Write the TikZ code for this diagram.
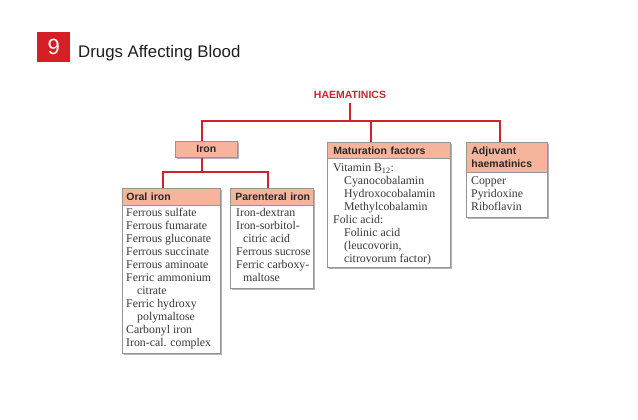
\documentclass[tikz,border=0pt]{standalone}
\usepackage{fontspec}
\setmainfont{Liberation Serif}
\setsansfont{Liberation Sans}
\usetikzlibrary{shadows}
\definecolor{hred}{RGB}{208,34,44}
\definecolor{hsalmon}{RGB}{246,180,156}
\definecolor{boxgray}{RGB}{150,150,150}
\definecolor{hdtxt}{RGB}{40,40,40}
\definecolor{bodytxt}{RGB}{55,55,55}
\definecolor{titlered}{RGB}{214,30,38}
\definecolor{titletxt}{RGB}{30,30,30}
\newcommand{\ind}[1][11pt]{\hspace*{#1}}
\newcommand{\fl}{\rule{0pt}{9pt}}
\tikzset{
  redline/.style={draw=hred, line width=2.2pt},
  boxbody/.style={draw=boxgray, fill=white, line width=0.8pt, anchor=north west, inner sep=0pt,
    drop shadow={shadow xshift=2pt, shadow yshift=-2pt, fill=black!30, opacity=1}},
  boxhead/.style={draw=boxgray, fill=hsalmon, line width=0.8pt, anchor=north west, inner ysep=0pt,
    align=left, text=hdtxt, font=\sffamily\bfseries\fontsize{10.5}{13.5}\selectfont},
  bodytext/.style={anchor=north west, inner sep=0pt, align=left, text=bodytxt,
    font=\fontsize{11.8}{13.0}\selectfont}
}
\begin{document}
\begin{tikzpicture}[x=1pt,y=-1pt]
\useasboundingbox (0,0) rectangle (638,420);
% title
\node[fill=titlered, minimum width=33pt, minimum height=30pt, inner sep=0pt, anchor=north west,
  text=white, font=\sffamily\fontsize{22}{22}\selectfont] (num) at (37,32) {9};
\node[anchor=base west, inner sep=0pt, text=titletxt, font=\sffamily\fontsize{16.8}{18}\selectfont]
  (title) at (78,58) {Drugs Affecting Blood};
% root
\node[anchor=base, inner xsep=0pt, inner ysep=4pt, text=hred, font=\sffamily\bfseries\fontsize{10.5}{12}\selectfont]
  (haem) at (350,98.7) {HAEMATINICS};
% iron
\node[boxbody, minimum width=62pt, minimum height=16pt] (iron) at (175,141) {};
\node[boxhead, minimum width=62pt, minimum height=16pt, align=center, inner xsep=0pt] (ironh) at (175,141) {Iron};
% maturation
\node[boxbody, minimum width=123pt, minimum height=125pt] (mat) at (327,142) {};
\node[boxhead, minimum width=123pt, minimum height=16pt, inner xsep=6pt, text width=111pt] (math) at (327,142) {Maturation factors};
\node[bodytext] (mattxt) at (333,171.3-9) {\fl Vitamin B\textsubscript{12}:\\ \ind Cyanocobalamin\\ \ind Hydroxocobalamin\\ \ind Methylcobalamin\\ Folic acid:\\ \ind Folinic acid\\ \ind (leucovorin,\\ \ind citrovorum factor)};
% adjuvant
\node[boxbody, minimum width=81pt, minimum height=75pt] (adj) at (466,142) {};
\node[boxhead, minimum width=81pt, minimum height=30pt, inner xsep=5pt, text width=71pt] (adjh) at (466,142) {Adjuvant\\ haematinics};
\node[bodytext] (adjtxt) at (471,184.3-9) {\fl Copper\\ Pyridoxine\\ Riboflavin};
% oral iron
\node[boxbody, minimum width=98pt, minimum height=165pt] (oral) at (122,188) {};
\node[boxhead, minimum width=98pt, minimum height=17pt, inner xsep=4pt, text width=90pt] (oralh) at (122,188) {Oral iron};
\node[bodytext] (oraltxt) at (126,216.6-9) {\fl Ferrous sulfate\\ Ferrous fumarate\\ Ferrous gluconate\\ Ferrous succinate\\ Ferrous aminoate\\ Ferric ammonium\\ \ind citrate\\ Ferric hydroxy\\ \ind polymaltose\\ Carbonyl iron\\ Iron-cal. complex};
% parenteral iron
\node[boxbody, minimum width=83pt, minimum height=100pt] (par) at (230,188) {};
\node[boxhead, minimum width=83pt, minimum height=17pt, inner xsep=5pt, text width=73pt] (parh) at (230,188) {\mbox{Parenteral iron}};
\node[bodytext] (partxt) at (236,216.6-9) {\fl Iron-dextran\\ Iron-sorbitol-\\ \ind[7pt]citric acid\\ Ferrous sucrose\\ Ferric carboxy-\\ \ind[7pt]maltose};
% connectors
\coordinate (bar) at (350,121);
\coordinate (ironin) at ([xshift=-4.5pt]ironh.north);
\coordinate (matin) at ([xshift=44pt]math.north west);
\coordinate (adjin) at ([xshift=34pt]adjh.north west);
\draw[redline] (haem.south) -- (bar);
\draw[redline] (ironin) |- (bar) -| (adjin);
\draw[redline] (matin) -- (matin |- bar);
\coordinate (ironout) at ([xshift=-4.5pt]iron.south);
\coordinate (bar2) at ([yshift=-14pt]ironout);
\coordinate (oralin) at ([xshift=41pt]oralh.north west);
\coordinate (parin) at ([xshift=38pt]parh.north west);
\draw[redline] (ironout) -- (bar2);
\draw[redline] (oralin) |- (bar2) -| (parin);
\end{tikzpicture}
\end{document}
